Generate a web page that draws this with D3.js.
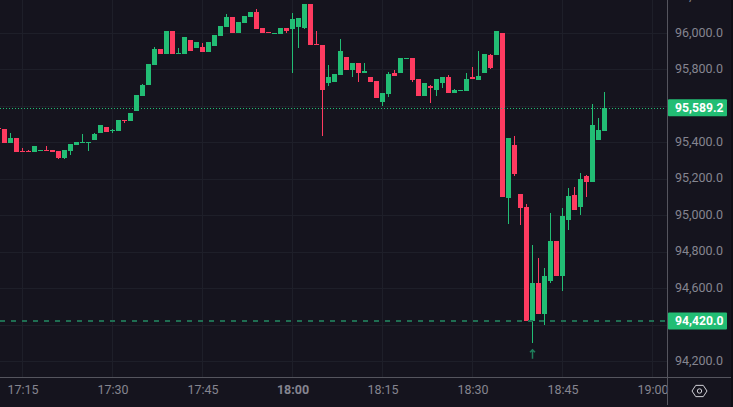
<!DOCTYPE html>
<meta charset="utf-8">
<style>

html, body {
  margin: 0;
  background: #15141e;
  overflow: hidden;
}

text {
  font-family: Roboto, sans-serif;
}

.grid line {
  stroke: #1e1f29;
  shape-rendering: crispEdges;
}

.axis text {
  fill: #858590;
  font-size: 12.5px;
}

.axis path, .axis line {
  display: none;
}

.border {
  stroke: #55555e;
  shape-rendering: crispEdges;
}

.candle rect, .candle line {
  shape-rendering: crispEdges;
}

.tag text {
  fill: #fff;
  font-size: 12.2px;
  font-weight: 700;
}

</style>
<body>
<script src="https://cdn.jsdelivr.net/npm/d3@7"></script>
<script>

var w = 733, h = 407,
    plotRight = 667, plotBottom = 377;

var up = "#22bd74", down = "#fe3b60";

var firstTime = new Date(2025, 0, 1, 17, 11);

var opens = [95479,95473,95396,95424,95352,95352,95347,95352,95358,95358,95352,95314,95352,95385,95396,95396,95413,95451,95484,95462,95462,95522,95517,95572,95654,95714,95824,95912,95885,96011,95885,95885,95962,95918,95923,95896,95929,95983,96033,96088,96000,96055,96088,96115,96027,96005,95994,95994,96027,96022,96033,96027,96159,95940,95934,95725,95731,95769,95868,95797,95835,95780,95758,95736,95621,95665,95780,95780,95857,95863,95747,95654,95709,95687,95725,95758,95671,95682,95682,95758,95742,95780,95879,95879,96000,95094,95385,95116,95045,94419,94628,94458,94639,94859,94666,94974,95111,95045,95215,95182,95413,95462];
var closes = [95473,95396,95424,95347,95347,95347,95380,95358,95352,95347,95314,95358,95391,95402,95402,95402,95446,95495,95457,95468,95522,95517,95561,95660,95714,95830,95912,95885,96011,95885,95890,95978,95901,95951,95896,95951,95989,96038,96088,96000,96060,96093,96115,96022,96000,96000,96000,96027,96011,96077,96082,96159,95934,95934,95687,95758,95775,95901,95797,95835,95780,95791,95731,95643,95671,95775,95764,95863,95863,95742,95654,95725,95698,95747,95758,95671,95687,95687,95747,95747,95764,95885,95808,96011,95100,95424,95226,95039,94419,94628,94458,94666,94859,94666,94996,95105,95029,95199,95182,95495,95468,95589.2];
var highs = [95479,95473,95451,95424,95369,95358,95380,95358,95380,95358,95352,95358,95391,95402,95446,95402,95451,95495,95484,95473,95522,95522,95561,95660,95720,95830,95923,95912,96011,96011,95918,95978,95962,95951,95945,95951,95989,96038,96104,96088,96060,96093,96115,96132,96027,96005,96000,96027,96027,96110,96082,96159,96159,96011,95934,95824,95775,95967,95868,95835,95835,95835,95758,95736,95671,95786,95797,95863,95863,95863,95747,95725,95714,95747,95758,95769,95693,95687,95780,95813,95901,95885,95885,96011,96000,95424,95435,95116,95061,94837,94765,94710,95012,94859,95039,95149,95155,95232,95221,95610,95533,95676];
var lows = [95473,95396,95396,95347,95347,95347,95347,95352,95352,95347,95308,95308,95330,95385,95396,95352,95413,95451,95457,95451,95462,95506,95517,95572,95654,95714,95824,95885,95885,95885,95885,95885,95901,95918,95896,95896,95929,95983,96033,96000,96000,96055,96088,96022,96000,96000,95994,95994,96000,95780,95918,96022,95934,95934,95435,95709,95731,95769,95797,95758,95731,95780,95731,95643,95599,95649,95764,95780,95857,95731,95654,95654,95616,95654,95698,95671,95671,95682,95682,95747,95742,95780,95802,95879,95100,94952,95215,94946,94419,94299,94458,94397,94628,94666,94584,94919,95029,95001,95100,95182,95413,95462];

var priceTicks = [96200, 96000, 95800, 95600, 95400, 95200, 95000, 94800, 94600, 94400, 94200];
var priceLabelTicks = priceTicks.filter(function(d) { return d !== 95600 && d !== 94400; });
var timeTicks = ["17:15", "17:30", "17:45", "18:00", "18:15", "18:30", "18:45", "19:00"];

var lastPrice = 95589.2,
    lowPrice = 94420.0,
    markerPrice = 94240;

var parseTime = d3.timeParse("%Y-%m-%d %H:%M"),
    tickTimes = timeTicks.map(function(d) { return parseTime("2025-01-01 " + d); }),
    times = opens.map(function(d, i) { return d3.timeMinute.offset(firstTime, i); });

// 6px per one minute candle, 17:15 sits at 22.5
var x = d3.scaleTime()
    .domain([parseTime("2025-01-01 17:15"), parseTime("2025-01-01 19:00")])
    .range([22.5, 652.5]);

var y = d3.scaleLinear()
    .domain([96000, 94200])
    .range([33, 361]);

var format = d3.format(",.1f");

var svg = d3.select("body").append("svg")
    .attr("width", w)
    .attr("height", h)
    .style("display", "block");

svg.append("rect")
    .attr("x", 731)
    .attr("width", 2)
    .attr("height", h)
    .attr("fill", "#0e0d14");

var grid = svg.append("g").attr("class", "grid");

grid.selectAll("line.h")
    .data(priceTicks)
  .enter().append("line")
    .attr("class", "h")
    .attr("x1", 0)
    .attr("x2", plotRight)
    .attr("y1", function(d) { return Math.round(y(d)) + 0.5; })
    .attr("y2", function(d) { return Math.round(y(d)) + 0.5; });

grid.selectAll("line.v")
    .data(tickTimes)
  .enter().append("line")
    .attr("class", "v")
    .attr("x1", function(d) { return x(d); })
    .attr("x2", function(d) { return x(d); })
    .attr("y1", 0)
    .attr("y2", plotBottom);

// candles
var plot = svg.append("g");

var candle = plot.selectAll("g.candle")
    .data(times)
  .enter().append("g")
    .attr("class", "candle")
    .attr("fill", function(d, i) { return closes[i] >= opens[i] ? up : down; })
    .attr("stroke", function(d, i) { return closes[i] >= opens[i] ? up : down; });

candle.append("line")
    .attr("x1", function(d) { return x(d); })
    .attr("x2", function(d) { return x(d); })
    .attr("y1", function(d, i) { return y(highs[i]); })
    .attr("y2", function(d, i) { return y(lows[i]); });

candle.append("rect")
    .attr("x", function(d) { return x(d) - 2.5; })
    .attr("width", 5)
    .attr("y", function(d, i) { return y(Math.max(opens[i], closes[i])); })
    .attr("height", function(d, i) { return Math.max(1, Math.abs(y(opens[i]) - y(closes[i]))); })
    .attr("stroke", "none");

// price lines
svg.append("line")
    .attr("x1", 0)
    .attr("x2", 666)
    .attr("y1", Math.round(y(lastPrice)) + 0.5)
    .attr("y2", Math.round(y(lastPrice)) + 0.5)
    .attr("stroke", up)
    .attr("stroke-dasharray", "1 2");

svg.append("line")
    .attr("x1", 0)
    .attr("x2", 666)
    .attr("y1", y(lowPrice))
    .attr("y2", y(lowPrice))
    .attr("stroke", "#1f6e52")
    .attr("stroke-width", 2)
    .attr("stroke-dasharray", "5 6");

// low marker
svg.append("path")
    .attr("transform", "translate(" + x(times[89]) + "," + y(markerPrice) + ")")
    .attr("d", "M0,-4V5M-2.5,-1.5L0,-4L2.5,-1.5")
    .attr("fill", "none")
    .attr("stroke", "#1f7d5a")
    .attr("stroke-width", 1.5);

// axes
var yAxis = svg.append("g")
    .attr("class", "axis")
    .attr("transform", "translate(675,-1)")
    .call(d3.axisRight(y).tickValues(priceLabelTicks).tickFormat(format).tickSize(0).tickPadding(0));

var xAxis = svg.append("g")
    .attr("class", "axis")
    .attr("transform", "translate(0,385)")
    .call(d3.axisBottom(x).tickValues(tickTimes).tickFormat(d3.timeFormat("%H:%M")).tickSize(0).tickPadding(0));

xAxis.selectAll("text")
    .attr("dy", "0.71em")
    .style("font-weight", function(d) { return d.getHours() === 18 && d.getMinutes() === 0 ? 700 : null; });

svg.append("line")
    .attr("class", "border")
    .attr("x1", plotRight + 0.5)
    .attr("x2", plotRight + 0.5)
    .attr("y1", 0)
    .attr("y2", 405);

svg.append("line")
    .attr("class", "border")
    .attr("x1", 0)
    .attr("x2", 731)
    .attr("y1", plotBottom + 0.5)
    .attr("y2", plotBottom + 0.5);

// price tags
var tag = svg.selectAll("g.tag")
    .data([lastPrice, lowPrice])
  .enter().append("g")
    .attr("class", "tag")
    .attr("transform", function(d) { return "translate(668," + y(d) + ")"; });

tag.append("rect")
    .attr("y", -8.5)
    .attr("width", 59)
    .attr("height", 17)
    .attr("rx", 1)
    .attr("fill", up);

tag.append("text")
    .attr("x", 7)
    .attr("dy", "0.35em")
    .text(format);

// settings icon
var icon = svg.append("g")
    .attr("transform", "translate(699.5,391)")
    .attr("fill", "none")
    .attr("stroke", "#d0d0d6")
    .attr("stroke-width", 1);

icon.append("path")
    .attr("d", d3.line()(d3.range(6).map(function(i) {
      var a = Math.PI / 3 * i;
      return [7.5 * Math.cos(a), 6.5 * Math.sin(a)];
    })) + "Z");

icon.append("circle")
    .attr("r", 2.2);

</script>
